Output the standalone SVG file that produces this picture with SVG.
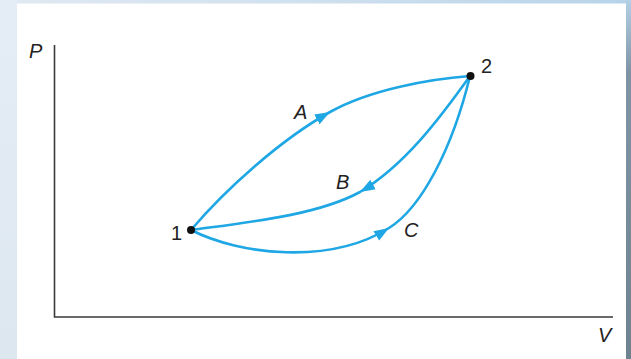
<svg xmlns="http://www.w3.org/2000/svg" width="631" height="359" viewBox="0 0 631 359">
  <defs>
    <linearGradient id="topbar" x1="0" y1="0" x2="1" y2="0">
      <stop offset="0" stop-color="#dfe9f2"/>
      <stop offset="0.5" stop-color="#cfe0ee"/>
      <stop offset="1" stop-color="#b7d3e9"/>
    </linearGradient>
    <linearGradient id="rightbar" x1="0" y1="0" x2="0" y2="1">
      <stop offset="0" stop-color="#b4d0e6"/>
      <stop offset="0.2" stop-color="#7f95a6"/>
      <stop offset="1" stop-color="#6f8290"/>
    </linearGradient>
    <linearGradient id="leftbar" x1="0" y1="0" x2="0" y2="1">
      <stop offset="0" stop-color="#e4edf5"/>
      <stop offset="1" stop-color="#dde7f0"/>
    </linearGradient>
    <marker id="arr" markerUnits="userSpaceOnUse" markerWidth="17" markerHeight="13" refX="15" refY="6.5" orient="auto">
      <path d="M0,1 L15,6.5 L0,12 Z" fill="#1ea7e4"/>
    </marker>
    <style>
      .curve { fill: none; stroke: #1ea7e4; stroke-width: 2.6; stroke-linecap: round; }
      .axis { fill: none; stroke: #3a3a3a; stroke-width: 1.6; }
      .lbl { font-family: "Liberation Sans", Arial, sans-serif; font-size: 20px; fill: #222; }
      .it { font-style: italic; }
      .dot { fill: #111; }
    </style>
  </defs>

  <g id="background">
    <rect x="0" y="0" width="631" height="359" fill="#ffffff"/>
    <rect x="0" y="0" width="631" height="3.5" fill="url(#topbar)"/>
    <rect x="0" y="0" width="17" height="359" fill="url(#leftbar)"/>
    <rect x="626" y="0" width="5" height="359" fill="url(#rightbar)"/>
  </g>

  <g id="axes">
    <path class="axis" d="M54.5,45 L54.5,317 L613,317"/>
    <text class="lbl it" x="29" y="57.5">P</text>
    <text class="lbl it" x="598" y="342">V</text>
  </g>

  <g id="connectors">
    <path id="path-A" class="curve" marker-mid="url(#arr)" d="M191,230 C225,190 280,140 330,112 C370,89.6 430,79 470,76"/>
    <path id="path-B" class="curve" marker-mid="url(#arr)" d="M470,76 C440,118 405,165 360,192 C318,215 250,222 191,230"/>
    <path id="path-C" class="curve" marker-mid="url(#arr)" d="M191,230 C240,255 330,265 389,228 C421,208 452,150 470,76"/>
  </g>

  <g id="node-1">
    <circle class="dot" cx="191" cy="230" r="4"/>
    <text class="lbl" x="171" y="239.5">1</text>
  </g>
  <g id="node-2">
    <circle class="dot" cx="470.5" cy="76" r="4"/>
    <text class="lbl" x="481" y="72.5">2</text>
  </g>

  <g id="labels">
    <text class="lbl it" x="294" y="118.5">A</text>
    <text class="lbl it" x="336" y="188.5">B</text>
    <text class="lbl it" x="404" y="237">C</text>
  </g>
</svg>
